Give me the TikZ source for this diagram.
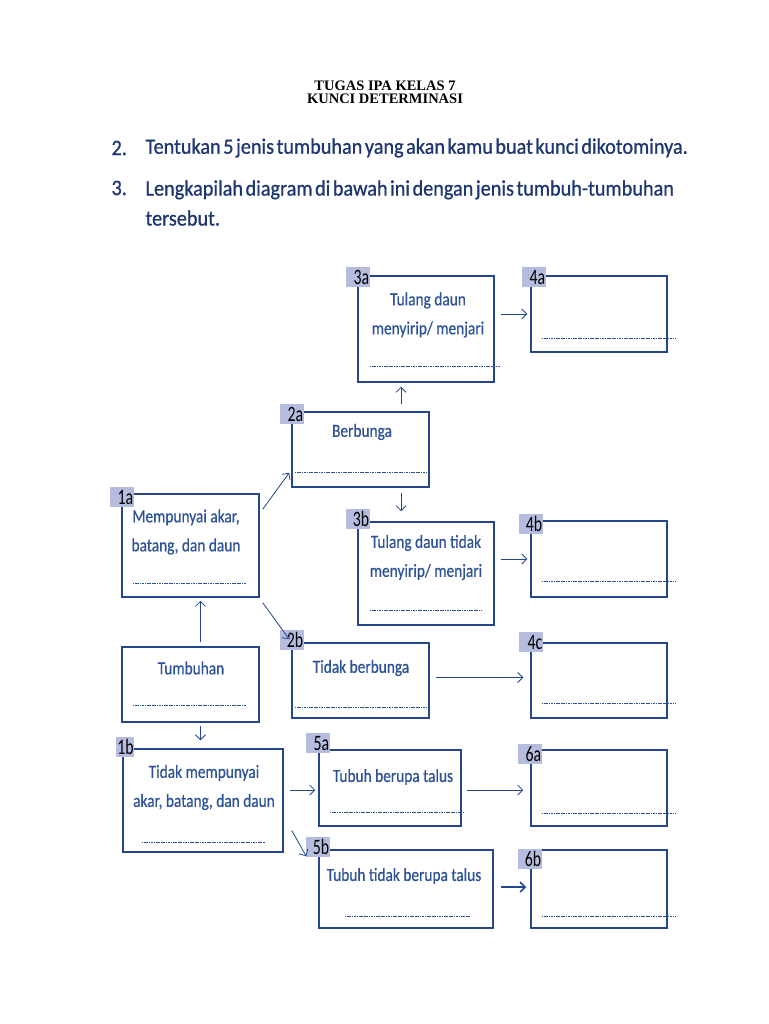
\documentclass[tikz,border=0pt]{standalone}
\usepackage{fontspec}
\setmainfont{Carlito}
\newfontfamily\titlefont{Liberation Serif}
\newfontfamily\keyfont{Carlito}[FakeStretch=0.83, FakeBold=0.5]
\newfontfamily\askfont{Carlito}[FakeStretch=0.92, WordSpace=0.55, FakeBold=0.8]
\newfontfamily\tabfont{Carlito}[FakeStretch=0.72]
\usetikzlibrary{arrows.meta}
\definecolor{boxblue}{RGB}{35,70,140}
\definecolor{textblue}{RGB}{45,82,152}
\definecolor{navy}{RGB}{30,55,112}
\definecolor{tabfill}{RGB}{182,188,222}
\tikzset{
  keybox/.style={draw=boxblue, line width=1.5pt, inner sep=0pt},
  keytab/.style={fill=tabfill, text width=22pt, minimum height=20pt, align=right,
    inner xsep=1pt, inner ysep=0pt, font=\tabfont\fontsize{22}{22}\selectfont,
    xshift=1pt, yshift=-2pt},
  keytext/.style={text=textblue, align=center, font=\keyfont\fontsize{18.5}{29}\selectfont},
  question/.style={anchor=west, text=navy, font=\askfont\fontsize{22}{30}\selectfont},
  dotline/.style={draw=textblue, line width=0.7pt, dash pattern=on 1.2pt off 0.5pt},
  keyarrow/.style={draw=boxblue, line width=0.8pt,
    -{Straight Barb[length=5pt,width=10pt]}},
}
\begin{document}
\begin{tikzpicture}[x=1pt, y=-1pt]
  \useasboundingbox [fill=white] (0,0) rectangle (768,1024);
  % judul dan soal
  \node [font=\titlefont\bfseries\fontsize{14.5}{13}\selectfont, align=center]
    (judul) at (385,92) {TUGAS IPA KELAS 7\\KUNCI DETERMINASI};
  \node [question] (n2) at (108,148) {2.};
  \node [question] (q2) at (142,148)
    {Tentukan 5 jenis tumbuhan yang akan kamu buat kunci dikotominya.};
  \node [question] (n3) at (108,188) {3.};
  \node [question, align=left] (q3)
    at (142,203) {Lengkapilah diagram di bawah ini dengan jenis tumbuh-tumbuhan\\tersebut.};
  % kotak
  \node [keybox, minimum width=136pt, minimum height=106pt] (b3a) at (426,329) {};
  \node [keybox, minimum width=136pt, minimum height=76pt] (b4a) at (599,314) {};
  \node [keybox, minimum width=137pt, minimum height=75pt] (b2a) at (360.5,449.5) {};
  \node [keybox, minimum width=137pt, minimum height=103pt] (b1a) at (190.5,545.5) {};
  \node [keybox, minimum width=136pt, minimum height=103pt] (b3b) at (426,573.5) {};
  \node [keybox, minimum width=136pt, minimum height=76pt] (b4b) at (599,559) {};
  \node [keybox, minimum width=137pt, minimum height=75pt] (b2b) at (360.5,680.5) {};
  \node [keybox, minimum width=136pt, minimum height=75pt] (b4c) at (599,680.5) {};
  \node [keybox, minimum width=137pt, minimum height=75pt] (b0) at (190.5,684.5) {};
  \node [keybox, minimum width=160pt, minimum height=103pt] (b1b) at (203,800.5) {};
  \node [keybox, minimum width=142pt, minimum height=76pt] (b5a) at (390,788) {};
  \node [keybox, minimum width=136pt, minimum height=76pt] (b6a) at (599,788) {};
  \node [keybox, minimum width=174pt, minimum height=78pt] (b5b) at (406,889) {};
  \node [keybox, minimum width=136pt, minimum height=78pt] (b6b) at (599,889) {};
  % label kecil
  \node [keytab] (l3a) at (b3a.north west) {3a};
  \node [keytab, xshift=3pt] (l4a) at (b4a.north west) {4a};
  \node [keytab, yshift=-1pt] (l2a) at (b2a.north west) {2a};
  \node [keytab, yshift=-2pt] (l1a) at (b1a.north west) {1a};
  \node [keytab, yshift=4pt] (l3b) at (b3b.north west) {3b};
  \node [keytab, yshift=-2pt] (l4b) at (b4b.north west) {4b};
  \node [keytab, yshift=4pt] (l2b) at (b2b.north west) {2b};
  \node [keytab, yshift=2pt] (l4c) at (b4c.north west) {4c};
  \node [keytab, text width=16pt, xshift=2pt, yshift=3pt] (l1b) at (b1b.north west) {1b};
  \node [keytab, xshift=-1pt, yshift=8pt] (l5a) at (b5a.north west) {5a};
  \node [keytab, xshift=-1pt, yshift=-3pt] (l6a) at (b6a.north west) {6a};
  \node [keytab, xshift=-1pt, yshift=4pt] (l5b) at (b5b.north west) {5b};
  \node [keytab, xshift=-1pt, yshift=-8pt] (l6b) at (b6b.north west) {6b};
  % isi kotak
  \node [keytext] (t3a) at (428,315) {Tulang daun\\menyirip/ menjari};
  \node [keytext] (t2a) at (362,432) {Berbunga};
  \node [keytext] (t1a) at (186,532) {Mempunyai akar,\\batang, dan daun};
  \node [keytext] (t3b) at (426,557.5) {Tulang daun tidak\\menyirip/ menjari};
  \node [keytext] (t2b) at (361,668) {Tidak berbunga};
  \node [keytext] (t0) at (191,668) {Tumbuhan};
  \node [keytext] (t1b) at (204,787.5) {Tidak mempunyai\\akar, batang, dan daun};
  \node [keytext] (t5a) at (393,777) {Tubuh berupa talus};
  \node [keytext] (t5b) at (404,876) {Tubuh tidak berupa talus};
  % garis titik-titik
  \draw [dotline] (370,366) -- (500,366);
  \draw [dotline] (542,338) -- (675,338);
  \draw [dotline] (295,472) -- (428,472);
  \draw [dotline] (133,583) -- (246,583);
  \draw [dotline] (370,610) -- (481,610);
  \draw [dotline] (542,581) -- (675,581);
  \draw [dotline] (295,707) -- (428,707);
  \draw [dotline] (542,703) -- (675,703);
  \draw [dotline] (133,705) -- (246,705);
  \draw [dotline] (142,842) -- (265,842);
  \draw [dotline] (330,812) -- (464,812);
  \draw [dotline] (542,813) -- (675,813);
  \draw [dotline] (345,916) -- (470,916);
  \draw [dotline] (542,916) -- (675,916);
  % panah
  \draw [keyarrow, shorten <=4pt, shorten >=3pt] ([xshift=10pt]b0.north) -- ([xshift=10pt]b1a.south);
  \draw [keyarrow, shorten <=3pt, shorten >=8pt] ([xshift=10pt]b0.south) -- ([xshift=10pt]b0.south |- b1b.north);
  \draw [keyarrow] ([xshift=3pt,yshift=-16pt]b1a.north east) -- ([xshift=-2pt,yshift=15pt]b2a.south west);
  \draw [keyarrow] ([xshift=3pt,yshift=-5pt]b1a.south east) -- ([xshift=-2pt,yshift=3pt]b2b.north west);
  \draw [keyarrow, shorten <=7pt, shorten >=4pt] ([xshift=-25pt]b3a.south |- b2a.north) -- ([xshift=-25pt]b3a.south);
  \draw [keyarrow, shorten <=5pt, shorten >=10pt] ([xshift=-25pt]b3b.north |- b2a.south) -- ([xshift=-25pt]b3b.north);
  \draw [keyarrow, shorten <=6pt, shorten >=3pt] (b3a.east |- b4a.west) -- (b4a.west);
  \draw [keyarrow, shorten <=6pt, shorten >=3pt] (b3b.east |- b4b.west) -- (b4b.west);
  \draw [keyarrow, shorten <=6pt, shorten >=7pt] ([yshift=3pt]b2b.east) -- ([yshift=3pt]b4c.west);
  \draw [keyarrow, shorten <=6pt, shorten >=3pt] ([yshift=-2pt]b1b.east |- b5a.west) -- ([yshift=-2pt]b5a.west);
  \draw [keyarrow, shorten <=5pt, shorten >=7pt] ([yshift=-2pt]b5a.east) -- ([yshift=-2pt]b6a.west);
  \draw [keyarrow] ([xshift=8pt,yshift=-30pt]b1b.east) -- ([xshift=-12pt,yshift=-7pt]b5b.north west);
  \draw [keyarrow, line width=1.6pt, shorten <=7pt, shorten >=4pt] ([yshift=2pt]b5b.east) -- ([yshift=2pt]b6b.west);
\end{tikzpicture}
\end{document}
